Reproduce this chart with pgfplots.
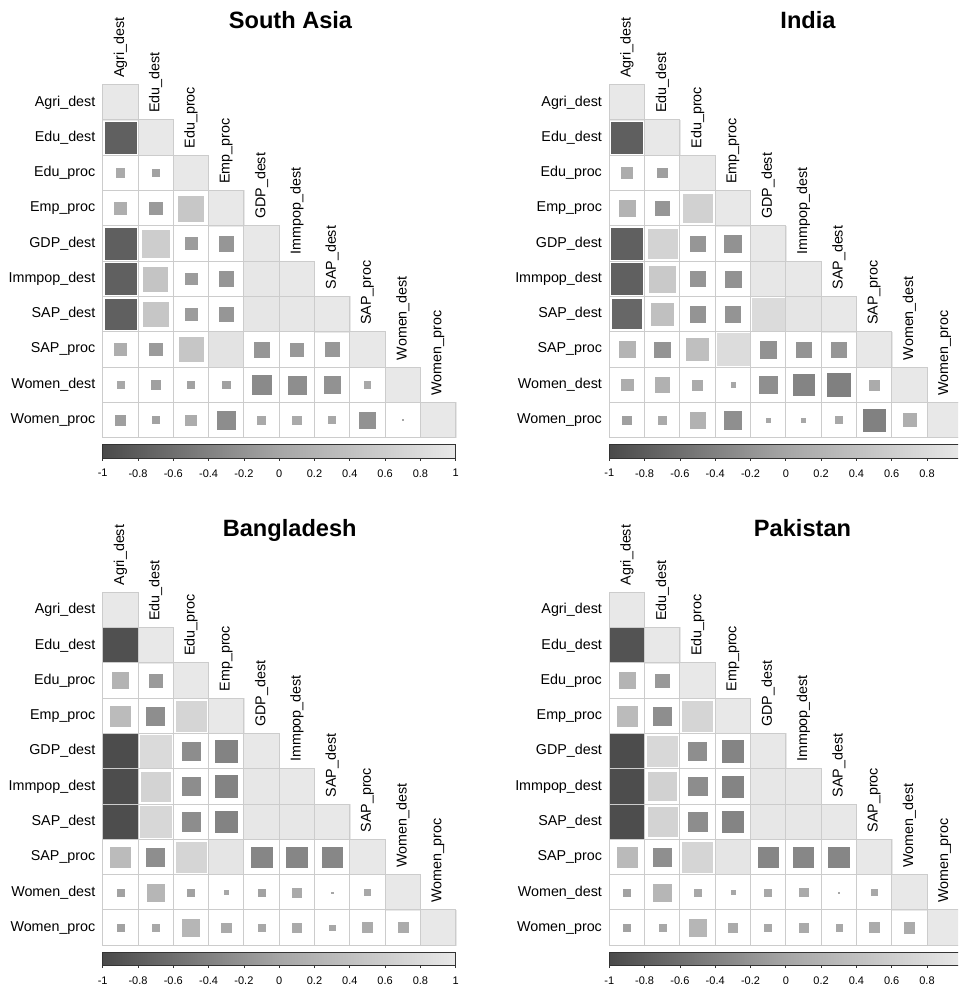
\documentclass[border=0pt]{standalone}
\usepackage{fontspec}
\setmainfont{Liberation Sans}
\usepackage{pgfplots}
\usepackage{pgfplotstable}
\pgfplotsset{compat=1.18}
\definecolor{gridc}{gray}{0.80}
\newcommand\lbl{\fontsize{7.15}{8}\selectfont}
\newcommand\cbf{\fontsize{5.5}{6}\selectfont}
\newcommand\ttl{\fontsize{11.8}{14}\selectfont\bfseries}

\pgfplotstableread{
x y r
1 1 1
1 2 -0.76
2 2 1
1 3 0.06
2 3 -0.04
3 3 1
1 4 0.12
2 4 -0.13
3 4 0.50
4 4 1
1 5 -0.77
2 5 0.59
3 5 -0.11
4 5 -0.17
5 5 1
1 6 -0.76
2 6 0.46
3 6 -0.11
4 6 -0.17
5 6 0.99
6 6 1
1 7 -0.76
2 7 0.48
3 7 -0.11
4 7 -0.17
5 7 0.97
6 7 0.98
7 7 1
1 8 0.12
2 8 -0.12
3 8 0.48
4 8 0.93
5 8 -0.17
6 8 -0.14
7 8 -0.15
8 8 1
1 9 0.04
2 9 -0.06
3 9 -0.04
4 9 -0.05
5 9 -0.30
6 9 -0.26
7 9 -0.21
8 9 0.03
9 9 1
1 10 -0.07
2 10 -0.04
3 10 0.09
4 10 -0.27
5 10 0.05
6 10 0.06
7 10 0.04
8 10 -0.21
9 10 0.001
10 10 1
}\tSA

\pgfplotstableread{
x y r
1 1 1
1 2 -0.77
2 2 1
1 3 0.10
2 3 -0.07
3 3 1
1 4 0.20
2 4 -0.17
3 4 0.66
4 4 1
1 5 -0.76
2 5 0.68
3 5 -0.17
4 5 -0.22
5 5 1
1 6 -0.76
2 6 0.54
3 6 -0.18
4 6 -0.21
5 6 0.98
6 6 1
1 7 -0.68
2 7 0.40
3 7 -0.19
4 7 -0.19
5 7 0.81
6 7 0.95
7 7 1
1 8 0.21
2 8 -0.19
3 8 0.38
4 8 0.82
5 8 -0.22
6 8 -0.19
7 8 -0.17
8 8 1
1 9 0.11
2 9 0.17
3 9 0.08
4 9 0.015
5 9 -0.25
6 9 -0.37
7 9 -0.41
8 9 0.08
9 9 1
1 10 -0.06
2 10 0.06
3 10 0.19
4 10 -0.25
5 10 0.015
6 10 0.015
7 10 0.036
8 10 -0.40
9 10 0.14
10 10 1
}\tIN

\pgfplotstableread{
x y r
1 1 1
1 2 -0.93
2 2 1
1 3 0.20
2 3 -0.13
3 3 1
1 4 0.32
2 4 -0.26
3 4 0.72
4 4 1
1 5 -0.98
2 5 0.79
3 5 -0.27
4 5 -0.38
5 5 1
1 6 -0.97
2 6 0.68
3 6 -0.27
4 6 -0.38
5 6 0.99
6 6 1
1 7 -0.97
2 7 0.74
3 7 -0.27
4 7 -0.38
5 7 0.99
6 7 0.99
7 7 1
1 8 0.32
2 8 -0.26
3 8 0.72
4 8 0.95
5 8 -0.34
6 8 -0.34
7 8 -0.33
8 8 1
1 9 -0.04
2 9 0.24
3 9 -0.04
4 9 0.015
5 9 -0.04
6 9 0.065
7 9 0.001
8 9 0.03
9 9 1
1 10 -0.04
2 10 0.04
3 10 0.24
4 10 0.07
5 10 0.04
6 10 0.065
7 10 0.026
8 10 0.08
9 10 0.08
10 10 1
}\tBD

\pgfplotstableread{
x y r
1 1 1
1 2 -0.90
2 2 1
1 3 0.21
2 3 -0.14
3 3 1
1 4 0.32
2 4 -0.26
3 4 0.71
4 4 1
1 5 -0.98
2 5 0.76
3 5 -0.26
4 5 -0.37
5 5 1
1 6 -0.97
2 6 0.65
3 6 -0.27
4 6 -0.37
5 6 0.99
6 6 1
1 7 -0.97
2 7 0.68
3 7 -0.27
4 7 -0.37
5 7 0.99
6 7 0.99
7 7 1
1 8 0.31
2 8 -0.25
3 8 0.71
4 8 0.95
5 8 -0.34
6 8 -0.33
7 8 -0.34
8 8 1
1 9 -0.04
2 9 0.24
3 9 0.04
4 9 0.015
5 9 0.04
6 9 0.06
7 9 0.001
8 9 0.03
9 9 1
1 10 -0.04
2 10 0.04
3 10 0.25
4 10 0.075
5 10 0.04
6 10 0.07
7 10 0.03
8 10 0.08
9 10 0.086
10 10 1
}\tPK

\pgfplotsset{
 corrax/.style={
  scale only axis, width=176.5pt, height=176.5pt,
  xmin=0.5, xmax=10.5, ymin=0.5, ymax=10.5,
  clip=false,
  axis line style={draw=none},
  tick style={draw=none},
  xtick=\empty,
  ytick={1,...,10},
  yticklabels={Women\_proc,Women\_dest,SAP\_proc,SAP\_dest,Immpop\_dest,GDP\_dest,Emp\_proc,Edu\_proc,Edu\_dest,Agri\_dest},
  yticklabel style={font=\lbl, inner sep=0pt, xshift=-3.5pt},
  colormap={gcm}{gray(0cm)=(0.29); gray(1cm)=(0.65); gray(2cm)=(0.91)},
  point meta min=-1, point meta max=1,
  colorbar horizontal,
  colorbar style={
    at={(parent axis.south west)}, anchor=north west, yshift=5pt,
    scale only axis, width=176.5pt, height=6.7pt,
    xtick={-1,-0.8,-0.6,-0.4,-0.2,0,0.2,0.4,0.6,0.8,1},
    xticklabels={-1,-0.8,-0.6,-0.4,-0.2,0,0.2,0.4,0.6,0.8,1},
    xticklabel style={font=\cbf, inner sep=0pt, yshift=-4.2pt},
    xtick pos=lower, xticklabel pos=lower,
    tick align=outside, major tick length=1.2pt,
    tick style={draw=black!80, line width=0.4pt},
    axis line style={draw=black!80, line width=0.5pt},
    ytick=\empty,
  },
 },
 rightax/.style={
  colorbar style={xticklabels={-1,-0.8,-0.6,-0.4,-0.2,0,0.2,0.4,0.6,0.8,{}}},
 },
 sqplot/.style={scatter, only marks, mark=square*, point meta=\thisrow{r},
   scatter/use mapped color={draw=mapped color, fill=mapped color},
   mark options={line width=0.2pt},
   visualization depends on={sqrt(abs(\thisrow{r}))*8.825 \as \msize},
   scatter/@pre marker code/.append style={/tikz/mark size=\msize pt}},
 cellplot/.style={only marks, mark=square, mark size=8.825pt,
   mark options={draw=gridc, line width=0.5pt}},
}

\newcommand\collabels{%
  \node[rotate=90, anchor=west, font=\lbl, inner sep=0pt] at ([yshift=3.3pt]axis cs:1,10.5) {Agri\_dest};
  \node[rotate=90, anchor=west, font=\lbl, inner sep=0pt] at ([yshift=3.3pt]axis cs:2,9.5) {Edu\_dest};
  \node[rotate=90, anchor=west, font=\lbl, inner sep=0pt] at ([yshift=3.3pt]axis cs:3,8.5) {Edu\_proc};
  \node[rotate=90, anchor=west, font=\lbl, inner sep=0pt] at ([yshift=3.3pt]axis cs:4,7.5) {Emp\_proc};
  \node[rotate=90, anchor=west, font=\lbl, inner sep=0pt] at ([yshift=3.3pt]axis cs:5,6.5) {GDP\_dest};
  \node[rotate=90, anchor=west, font=\lbl, inner sep=0pt] at ([yshift=3.3pt]axis cs:6,5.5) {Immpop\_dest};
  \node[rotate=90, anchor=west, font=\lbl, inner sep=0pt] at ([yshift=3.3pt]axis cs:7,4.5) {SAP\_dest};
  \node[rotate=90, anchor=west, font=\lbl, inner sep=0pt] at ([yshift=3.3pt]axis cs:8,3.5) {SAP\_proc};
  \node[rotate=90, anchor=west, font=\lbl, inner sep=0pt] at ([yshift=3.3pt]axis cs:9,2.5) {Women\_dest};
  \node[rotate=90, anchor=west, font=\lbl, inner sep=0pt] at ([yshift=3.3pt]axis cs:10,1.5) {Women\_proc};
}

\begin{document}
\begin{tikzpicture}
\useasboundingbox (0,0) rectangle (479pt,494pt);
\clip (0,0) rectangle (479pt,494pt);

\begin{axis}[corrax, at={(51.35pt,451.65pt)}, anchor=north west]
\addplot[sqplot] table[x=x, y expr=11-\thisrow{y}] {\tSA};
\addplot[cellplot] table[x=x, y expr=11-\thisrow{y}] {\tSA};
\collabels
\end{axis}

\begin{axis}[corrax, rightax, at={(304.65pt,451.65pt)}, anchor=north west]
\addplot[sqplot] table[x=x, y expr=11-\thisrow{y}] {\tIN};
\addplot[cellplot] table[x=x, y expr=11-\thisrow{y}] {\tIN};
\collabels
\end{axis}

\begin{axis}[corrax, at={(51.35pt,197.85pt)}, anchor=north west]
\addplot[sqplot] table[x=x, y expr=11-\thisrow{y}] {\tBD};
\addplot[cellplot] table[x=x, y expr=11-\thisrow{y}] {\tBD};
\collabels
\end{axis}

\begin{axis}[corrax, rightax, at={(304.65pt,197.85pt)}, anchor=north west]
\addplot[sqplot] table[x=x, y expr=11-\thisrow{y}] {\tPK};
\addplot[cellplot] table[x=x, y expr=11-\thisrow{y}] {\tPK};
\collabels
\end{axis}

\node[font=\ttl, anchor=base] at (145.25pt,479.5pt) {South Asia};
\node[font=\ttl, anchor=base] at (404pt,479.5pt) {India};
\node[font=\ttl, anchor=base] at (144.85pt,225.75pt) {Bangladesh};
\node[font=\ttl, anchor=base] at (401.25pt,225.75pt) {Pakistan};
\end{tikzpicture}
\end{document}
